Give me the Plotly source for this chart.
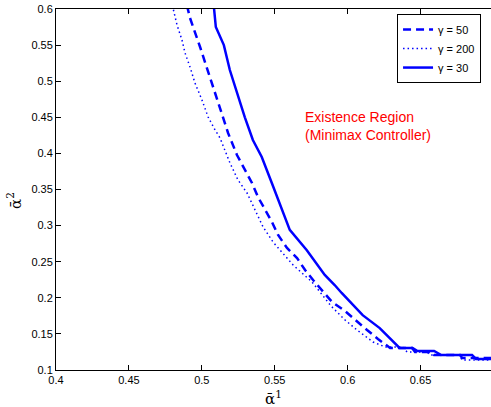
import plotly.graph_objects as go

# gamma = 50 (dashed)
x_g50 = [0.4898, 0.4919, 0.4988, 0.5056, 0.5111, 0.518, 0.5241, 0.5296, 0.5344, 0.5385,
         0.5433, 0.5481, 0.5523, 0.5584, 0.5653, 0.5708, 0.5763, 0.5893, 0.5982, 0.6051,
         0.6133, 0.6208, 0.6291, 0.6442, 0.6462, 0.6579, 0.6593, 0.6771, 0.6785, 0.70]
y_g50 = [0.605, 0.5875, 0.5474, 0.5058, 0.4698, 0.4283, 0.3978, 0.377, 0.359, 0.3396,
         0.3216, 0.305, 0.287, 0.269, 0.2551, 0.2385, 0.2247, 0.1942, 0.1817, 0.1693,
         0.1554, 0.143, 0.1305, 0.1305, 0.125, 0.125, 0.1208, 0.1208, 0.1166, 0.1166]

# gamma = 200 (dotted)
x_g200 = [0.4798, 0.483, 0.4864, 0.4885, 0.4919, 0.4953, 0.5001, 0.5043, 0.5091, 0.5125,
          0.5193, 0.5248, 0.531, 0.5365, 0.542, 0.5488, 0.5557, 0.5626, 0.5687, 0.5756,
          0.5886, 0.5982, 0.6064, 0.6174, 0.6257, 0.6380, 0.6407, 0.6545, 0.6565, 0.6765,
          0.6785, 0.70]
y_g200 = [0.605, 0.5778, 0.557, 0.539, 0.5197, 0.4975, 0.474, 0.4504, 0.4324, 0.4213,
          0.3867, 0.3632, 0.3452, 0.3216, 0.2981, 0.2773, 0.262, 0.2454, 0.2343, 0.2219,
          0.1886, 0.1693, 0.1554, 0.1388, 0.1319, 0.1319, 0.125, 0.125, 0.1208, 0.1208,
          0.1139, 0.1139]

# gamma = 30 (solid)
x_g30 = [0.5082, 0.5084, 0.5096, 0.5151, 0.5192, 0.5295, 0.535, 0.5411, 0.548, 0.5548,
         0.5603, 0.572, 0.5843, 0.5911, 0.5959, 0.6103, 0.615, 0.622, 0.6356, 0.6445,
         0.6479, 0.6593, 0.6641, 0.6853, 0.688, 0.70]
y_g30 = [0.61, 0.6, 0.575, 0.55, 0.5155, 0.45, 0.4186, 0.395, 0.359, 0.3216,
         0.294, 0.266, 0.2316, 0.2177, 0.2067, 0.176, 0.169, 0.158, 0.1305, 0.1305,
         0.1263, 0.1263, 0.1208, 0.1208, 0.1153, 0.1153]

x_ticks = [0.4, 0.45, 0.5, 0.55, 0.6, 0.65]
y_ticks = [0.1, 0.15, 0.2, 0.25, 0.3, 0.35, 0.4, 0.45, 0.5, 0.55, 0.6]

blue = "#0000ff"
sans = "Liberation Sans, Arial, sans-serif"
serif = "DejaVu Serif, Liberation Serif, serif"

fig = go.Figure()
fig.add_trace(go.Scatter(x=x_g50, y=y_g50, mode="lines", name="γ = 50",
                         line=dict(color=blue, width=2.5, dash="8px,5px")))
fig.add_trace(go.Scatter(x=x_g200, y=y_g200, mode="lines", name="γ = 200",
                         line=dict(color=blue, width=1.5, dash="1.5px,3px")))
fig.add_trace(go.Scatter(x=x_g30, y=y_g30, mode="lines", name="γ = 30",
                         line=dict(color=blue, width=2.5)))

fig.add_annotation(x=0.5694, y=0.438, xref="x", yref="y", xanchor="left", yanchor="middle",
                   align="left", showarrow=False,
                   text="Existence Region<br>(Minimax Controller)",
                   font=dict(family=sans, size=14, color="#ff0000"))

# axis titles
fig.add_annotation(x=0.5, y=-0.045, xref="paper", yref="paper", xanchor="center", yanchor="top",
                   showarrow=False, text="ᾱ<sup>1</sup>",
                   font=dict(family=serif, size=15, color="black"))
fig.add_annotation(x=-0.095, y=0.47, xref="paper", yref="paper", xanchor="center", yanchor="middle",
                   showarrow=False, text="ᾱ<sup>2</sup>", textangle=-90,
                   font=dict(family=serif, size=15, color="black"))

fig.update_layout(
    width=491, height=407,
    margin=dict(l=56, r=0, t=9, b=37),
    paper_bgcolor="white", plot_bgcolor="white",
    font=dict(family=sans, size=11, color="black"),
    showlegend=True,
    legend=dict(x=0.784, y=0.986, xanchor="left", yanchor="top",
                bgcolor="white", bordercolor="black", borderwidth=1,
                font=dict(family=sans, size=11),
                tracegroupgap=0, itemwidth=30),
    xaxis=dict(range=[0.4, 0.6983], tickvals=x_ticks, ticktext=[str(v) for v in x_ticks],
               ticks="inside", ticklen=5, tickcolor="black", automargin=False,
               showline=True, linecolor="black", linewidth=1, mirror="ticks",
               showgrid=False, zeroline=False),
    yaxis=dict(range=[0.1, 0.6], tickvals=y_ticks, ticktext=[str(v) for v in y_ticks],
               ticks="inside", ticklen=5, tickcolor="black", automargin=False,
               showline=True, linecolor="black", linewidth=1,
               showgrid=False, zeroline=False),
)

# drop the page's default body margin so the figure sits at the window corner
fig.write_html("out.html", config={"displayModeBar": False},
               post_script="document.body.style.margin = '0';")
